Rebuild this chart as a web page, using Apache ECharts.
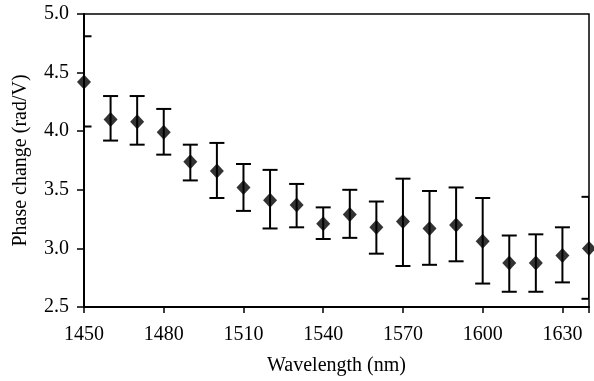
<!DOCTYPE html>
<html>
<head>
<meta charset="utf-8">
<script src="https://cdn.jsdelivr.net/npm/echarts@6/dist/echarts.min.js"></script>
<style>html,body{margin:0;padding:0;background:#fff;}#chart{width:594px;height:381px;}</style>
</head>
<body>
<div id="chart"></div>
<script>
const wavelengths = [1450,1460,1470,1480,1490,1500,1510,1520,1530,1540,1550,1560,1570,1580,1590,1600,1610,1620,1630,1640];
const phaseChange = [4.42,4.10,4.08,3.99,3.74,3.66,3.52,3.41,3.37,3.21,3.29,3.18,3.23,3.17,3.20,3.06,2.875,2.875,2.94,3.00];
const errUpper   = [4.81,4.30,4.30,4.19,3.885,3.90,3.72,3.67,3.55,3.35,3.50,3.40,3.595,3.49,3.52,3.43,3.11,3.12,3.18,3.44];
const errLower   = [4.04,3.92,3.885,3.80,3.58,3.43,3.32,3.17,3.18,3.08,3.09,2.955,2.85,2.86,2.89,2.70,2.63,2.63,2.71,2.57];
const xTickLabels = ['1450','1480','1510','1540','1570','1600','1630'];
const yTickLabels = ['2.5','3.0','3.5','4.0','4.5','5.0'];

const font = 'Liberation Serif';
const chart = echarts.init(document.getElementById('chart'), null, {renderer:'canvas'});

const pts = wavelengths.map((w,i)=>[w, phaseChange[i]]);
const errs = wavelengths.map((w,i)=>[w, errLower[i], errUpper[i]]);

chart.setOption({
  animation:false,
  backgroundColor:'#fff',
  grid:{left:84,right:5,top:14,bottom:74,show:true,borderColor:'#000',borderWidth:1.5,backgroundColor:'transparent'},
  xAxis:{
    type:'value',min:1450,max:1640,interval:30,
    name:'Wavelength (nm)',nameLocation:'middle',nameGap:49,
    nameTextStyle:{fontFamily:font,fontSize:20,color:'#000'},
    axisLine:{lineStyle:{color:'#000',width:2}},
    axisTick:{inside:false,length:6,lineStyle:{color:'#000',width:1.5}},
    axisLabel:{fontFamily:font,fontSize:20,color:'#000',margin:18,
      formatter:v=>{const s=String(v);return xTickLabels.indexOf(s)>=0?s:'';}},
    splitLine:{show:false}
  },
  yAxis:{
    type:'value',min:2.5,max:5,interval:0.5,
    name:'Phase change (rad/V)',nameLocation:'middle',nameGap:53,nameRotate:90,
    nameTextStyle:{fontFamily:font,fontSize:20,color:'#000'},
    axisLine:{lineStyle:{color:'#000',width:2}},
    axisTick:{inside:false,length:7,lineStyle:{color:'#000',width:1.5}},
    axisLabel:{fontFamily:font,fontSize:20,color:'#000',margin:15,
      formatter:v=>{const s=v.toFixed(1);return yTickLabels.indexOf(s)>=0?s:'';}},
    splitLine:{show:false}
  },
  series:[
    {
      type:'custom',
      clip:true,
      data:errs,
      renderItem:function(params,api){
        const x = api.value(0);
        const lo = api.coord([x, api.value(1)]);
        const hi = api.coord([x, api.value(2)]);
        const hw = 7.5;
        const style = {stroke:'#000',lineWidth:2,fill:null};
        return {type:'group',children:[
          {type:'line',shape:{x1:lo[0],y1:lo[1],x2:hi[0],y2:hi[1]},style:style},
          {type:'line',shape:{x1:hi[0]-hw,y1:hi[1],x2:hi[0]+hw,y2:hi[1]},style:style},
          {type:'line',shape:{x1:lo[0]-hw,y1:lo[1],x2:lo[0]+hw,y2:lo[1]},style:style}
        ]};
      },
      z:2
    },
    {
      type:'scatter',
      data:pts,
      symbol:'diamond',
      symbolSize:[14,15],
      itemStyle:{color:'#000'},
      clip:false,
      z:3
    }
  ]
});
</script>
</body>
</html>
